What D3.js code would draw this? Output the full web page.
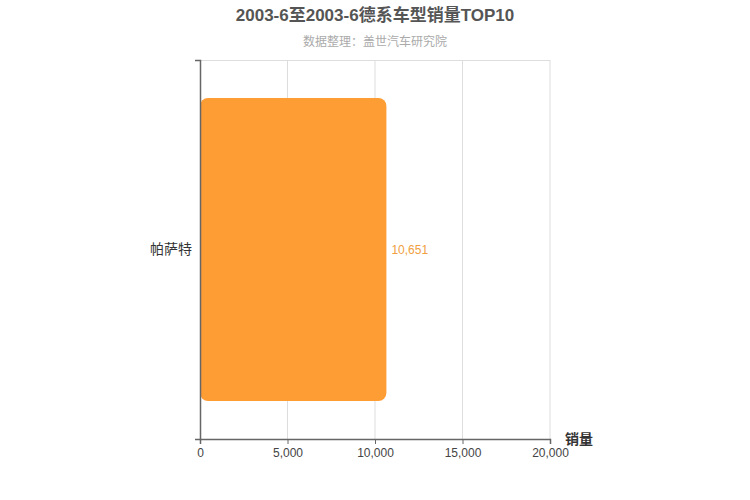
<!DOCTYPE html>
<html>
<head>
<meta charset="utf-8">
<script src="https://cdn.jsdelivr.net/npm/d3@7"></script>
<style>
  body { margin: 0; background: #fff; }
  text { font-family: "Liberation Sans", "Noto Sans CJK SC", sans-serif; }
</style>
</head>
<body>
<svg id="chart"></svg>
<script>
const titleText = "2003-6至2003-6德系车型销量TOP10";
const subtitleText = "数据整理：盖世汽车研究院";
const models = ["帕萨特"];
const sales = [10651];
const xTicks = [0, 5000, 10000, 15000, 20000];

const svgWidth = 750, svgHeight = 500;
const margin = {top: 60, right: 200, bottom: 61, left: 200};
const width = svgWidth - margin.left - margin.right;
const height = svgHeight - margin.top - margin.bottom;
const barColor = "#ff9d35";

const svg = d3.select("#chart")
  .attr("width", svgWidth)
  .attr("height", svgHeight);

svg.append("text")
  .attr("x", svgWidth / 2)
  .attr("y", 21)
  .attr("text-anchor", "middle")
  .style("font-size", "17px")
  .style("font-weight", "bold")
  .style("fill", "#555")
  .text(titleText);

svg.append("text")
  .attr("x", svgWidth / 2)
  .attr("y", 46)
  .attr("text-anchor", "middle")
  .style("font-size", "12px")
  .style("fill", "#aaa")
  .text(subtitleText);

const g = svg.append("g")
  .attr("transform", "translate(" + margin.left + "," + margin.top + ")");

const x = d3.scaleLinear().domain([0, 20000]).range([0, width]);
const y = d3.scaleBand().domain(models).range([0, height]).paddingInner(0.2).paddingOuter(0.1);

// grid lines
g.selectAll(".grid")
  .data(xTicks.slice(1))
  .enter().append("line")
  .attr("x1", d => x(d)).attr("x2", d => x(d))
  .attr("y1", 0).attr("y2", height)
  .attr("stroke", "#ddd")
  .attr("stroke-width", 1);

// top border
g.append("line")
  .attr("x1", x(0)).attr("x2", x(20000))
  .attr("y1", 0.5).attr("y2", 0.5)
  .attr("stroke", "#ddd");

// bars
g.selectAll(".bar")
  .data(models)
  .enter().append("rect")
  .attr("x", x(0))
  .attr("y", d => y(d))
  .attr("width", (d, i) => x(sales[i]) - x(0))
  .attr("height", y.bandwidth())
  .attr("rx", 8).attr("ry", 8)
  .attr("fill", barColor);

// value labels
g.selectAll(".val")
  .data(models)
  .enter().append("text")
  .attr("x", (d, i) => x(sales[i]) + 5)
  .attr("y", d => y(d) + y.bandwidth() / 2)
  .attr("dy", "0.35em")
  .style("font-size", "12px")
  .style("fill", "#f0a040")
  .text((d, i) => d3.format(",")(sales[i]));

// x axis
const xAxis = g.append("g")
  .attr("transform", "translate(0," + height + ")")
  .call(d3.axisBottom(x).tickValues(xTicks).tickFormat(d3.format(",")).tickSize(5).tickPadding(4));
xAxis.select(".domain").attr("stroke", "#666").attr("stroke-width", 1.5);
xAxis.selectAll(".tick line").attr("stroke", "#666");
xAxis.selectAll("text").style("font-size", "12px").style("fill", "#444")
  .style("font-family", "'Liberation Sans', sans-serif");

// y axis
const yScaleEdge = d3.scaleLinear().domain([0, 1]).range([0, height]);
const yAxis = g.append("g")
  .call(d3.axisLeft(yScaleEdge).tickValues([0, 1]).tickFormat("").tickSize(5));
yAxis.select(".domain").attr("stroke", "#666").attr("stroke-width", 1.5);
yAxis.selectAll(".tick line").attr("stroke", "#666");

g.selectAll(".cat")
  .data(models)
  .enter().append("text")
  .attr("x", -8)
  .attr("y", d => y(d) + y.bandwidth() / 2)
  .attr("dy", "0.35em")
  .attr("text-anchor", "end")
  .style("font-size", "14px")
  .style("fill", "#333")
  .text(d => d);

// axis name
g.append("text")
  .attr("x", width + 15)
  .attr("y", height + 5)
  .style("font-size", "14px")
  .style("font-weight", "bold")
  .style("fill", "#333")
  .text("销量");
</script>
</body>
</html>
